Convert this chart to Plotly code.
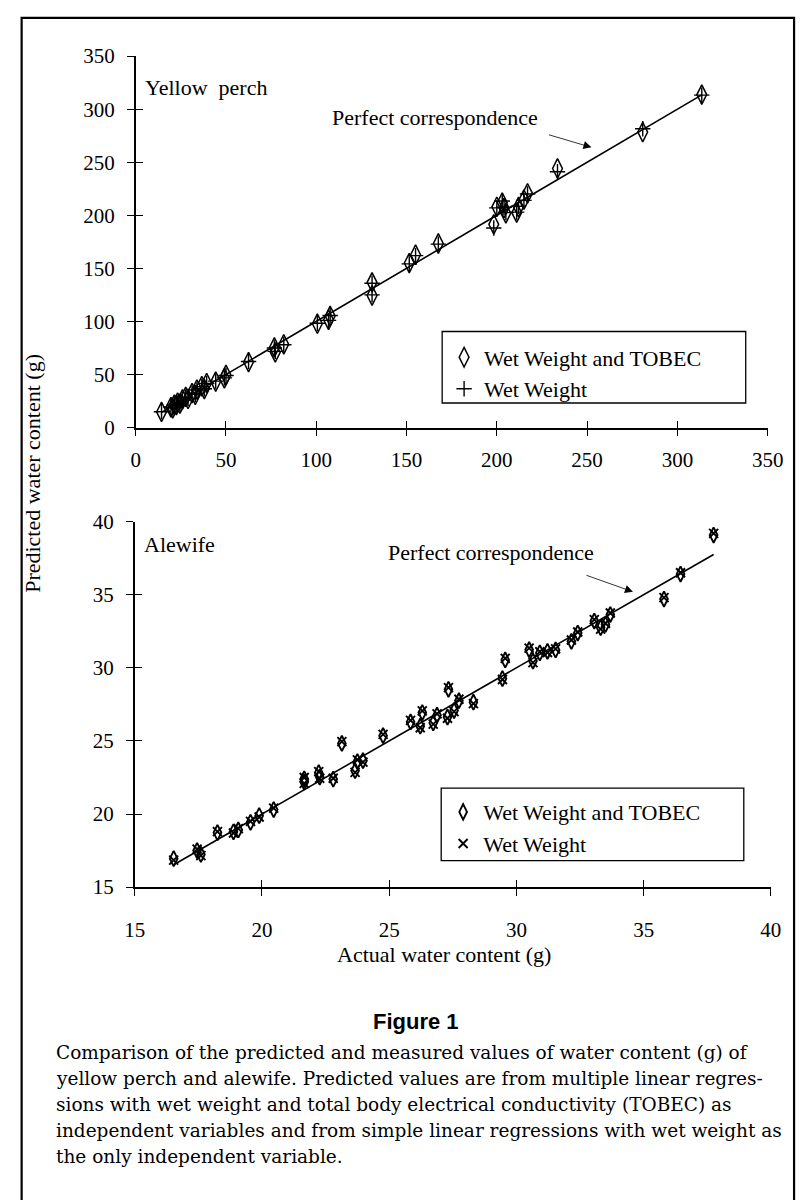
import plotly.graph_objects as go

# ---------------- data ----------------
perch_actual = [14.3, 19.5, 20.5, 21.4, 22.5, 23.2, 24.5, 25.9, 27.7, 29.0, 31.2, 33.0, 33.9, 36.6, 38.0,
                39.3, 44.3, 49.1, 50.0, 62.5, 76.8, 77.3, 82.0, 100.6, 106.8, 107.7, 130.9, 130.9,
                151.5, 155.0, 167.6, 198.3, 200.0, 203.0, 204.0, 205.0, 211.0, 212.0, 215.0, 217.0,
                233.6, 280.8, 313.5]
perch_tobec = [14.7, 19.1, 18.1, 21.6, 21.1, 23.5, 22.5, 26.5, 28.9, 26.9, 32.4, 30.8, 35.8, 38.9, 36.2,
               41.9, 43.3, 46.4, 49.5, 61.7, 75.5, 70.8, 78.4, 97.8, 101.5, 105.1, 136.8, 124.4,
               155.0, 162.8, 173.4, 191.5, 208.0, 212.0, 206.9, 201.9, 202.5, 207.8, 214.7, 220.7,
               244.1, 278.4, 313.7]
perch_ww = [14.9, 19.4, 18.6, 21.2, 21.5, 23.1, 22.9, 26.0, 28.5, 27.3, 32.0, 31.2, 35.4, 38.5, 36.6,
            41.5, 43.7, 46.8, 49.0, 62.2, 75.0, 71.8, 78.0, 98.3, 101.0, 105.6, 136.0, 125.0,
            154.2, 162.0, 172.8, 188.0, 207.0, 213.5, 207.5, 202.5, 203.0, 208.5, 214.0, 220.0,
            241.0, 281.5, 313.2]

alewife_actual = [16.53, 17.45, 17.6, 18.25, 18.88, 19.07, 19.55, 19.89, 20.46, 21.66, 21.66, 22.23,
                  22.27, 22.8, 23.14, 23.66, 23.75, 23.97, 24.76, 25.84, 26.22, 26.3, 26.73, 26.88,
                  27.29, 27.33, 27.55, 27.74, 28.31, 29.45, 29.56, 30.5, 30.65, 30.92, 31.22, 31.54,
                  32.16, 32.41, 33.06, 33.31, 33.5, 33.69, 35.8, 36.45, 37.75]
alewife_tobec = [16.95, 17.5, 17.24, 18.73, 18.78, 18.91, 19.43, 19.89, 20.3, 22.19, 22.41, 22.83,
                 22.53, 22.38, 24.83, 22.96, 23.59, 23.65, 25.36, 26.3, 26.01, 26.94, 26.23, 26.76,
                 26.63, 28.53, 27.08, 27.75, 27.65, 29.26, 30.54, 31.24, 30.46, 31.02, 31.13, 31.22,
                 31.81, 32.38, 33.2, 32.75, 32.97, 33.64, 34.7, 36.41, 39.08]
alewife_ww = [16.85, 17.6, 17.15, 18.8, 18.7, 19.0, 19.5, 19.8, 20.4, 22.1, 22.5, 22.9,
              22.45, 22.45, 24.95, 22.85, 23.7, 23.55, 25.45, 26.4, 25.9, 27.05, 26.15, 26.85,
              26.55, 28.65, 27.0, 27.85, 27.55, 29.2, 30.65, 31.35, 30.35, 31.1, 31.05, 31.3,
              31.9, 32.45, 33.3, 32.65, 33.05, 33.75, 34.8, 36.5, 39.2]

perch_ticks = [0, 50, 100, 150, 200, 250, 300, 350]
alewife_ticks = [15, 20, 25, 30, 35, 40]

W, H = 812, 1200
SERIF = "Liberation Serif"


def px(xp):
    return xp / W


def py(yp):
    return 1 - yp / H


fig = go.Figure()

# perfect correspondence lines (y = x over the data range)
plo, phi = min(perch_actual), max(perch_actual)
fig.add_trace(go.Scatter(x=[plo, phi], y=[plo, phi], mode="lines",
                         line=dict(color="black", width=1.6), showlegend=False,
                         hoverinfo="skip", xaxis="x", yaxis="y"))
alo, ahi = min(alewife_actual), max(alewife_actual)
fig.add_trace(go.Scatter(x=[alo, ahi], y=[alo, ahi], mode="lines",
                         line=dict(color="black", width=1.6), showlegend=False,
                         hoverinfo="skip", xaxis="x2", yaxis="y2"))

# Yellow perch markers
fig.add_trace(go.Scatter(x=perch_actual, y=perch_tobec, mode="markers", name="Wet Weight and TOBEC",
                         marker=dict(symbol="diamond-tall-open", size=14, color="black",
                                     line=dict(width=1.5, color="black")),
                         xaxis="x", yaxis="y", legend="legend", cliponaxis=False))
fig.add_trace(go.Scatter(x=perch_actual, y=perch_ww, mode="markers", name="Wet Weight",
                         marker=dict(symbol="cross-thin-open", size=11, color="black",
                                     line=dict(width=1.4, color="black")),
                         xaxis="x", yaxis="y", legend="legend", cliponaxis=False))

# Alewife markers
fig.add_trace(go.Scatter(x=alewife_actual, y=alewife_tobec, mode="markers", name="Wet Weight and TOBEC",
                         marker=dict(symbol="diamond-tall-open", size=11, color="black",
                                     line=dict(width=1.9, color="black")),
                         xaxis="x2", yaxis="y2", legend="legend2", cliponaxis=False))
fig.add_trace(go.Scatter(x=alewife_actual, y=alewife_ww, mode="markers", name="Wet Weight",
                         marker=dict(symbol="x-thin-open", size=9, color="black",
                                     line=dict(width=1.9, color="black")),
                         xaxis="x2", yaxis="y2", legend="legend2", cliponaxis=False))

# dummy traces so overlay tick axes render
for xa, ya in [("x3", "y"), ("x", "y3"), ("x4", "y2"), ("x2", "y4")]:
    fig.add_trace(go.Scatter(x=[None], y=[None], xaxis=xa, yaxis=ya, showlegend=False,
                             hoverinfo="skip"))

tickfont = dict(family=SERIF, size=21, color="black")
base = dict(showline=True, linecolor="black", linewidth=1.5, showgrid=False, zeroline=False,
            ticks="outside", ticklen=7, tickwidth=1.3, tickcolor="black", tickfont=tickfont)
over = dict(showline=False, showgrid=False, zeroline=False, ticks="inside", ticklen=7,
            tickwidth=1.3, tickcolor="black", showticklabels=False)

top_xdom = [px(129), px(782.7)]
top_ydom = [py(424), py(45)]
bot_xdom = [px(128), px(786)]
bot_ydom = [py(893), py(520)]

fig.update_layout(
    width=W, height=H, margin=dict(l=0, r=0, t=0, b=0),
    plot_bgcolor="white", paper_bgcolor="white",
    xaxis=dict(**base, domain=top_xdom, range=[0, 350], tickvals=perch_ticks, anchor="y",
               ticklabelstandoff=6),
    yaxis=dict(**base, domain=top_ydom, range=[0, 350], tickvals=perch_ticks, anchor="x",
               ticklabelstandoff=8),
    xaxis3=dict(**over, range=[0, 350], tickvals=perch_ticks, overlaying="x", anchor="y"),
    yaxis3=dict(**over, range=[0, 350], tickvals=perch_ticks, overlaying="y", anchor="x", side="left"),
    xaxis2=dict(**base, domain=bot_xdom, range=[15, 40], tickvals=alewife_ticks, anchor="y2",
                ticklabelstandoff=16),
    yaxis2=dict(**base, domain=bot_ydom, range=[15, 40], tickvals=alewife_ticks, anchor="x2",
                ticklabelstandoff=8),
    xaxis4=dict(**over, range=[15, 40], tickvals=alewife_ticks, overlaying="x2", anchor="y2"),
    yaxis4=dict(**over, range=[15, 40], tickvals=alewife_ticks, overlaying="y2", anchor="x2", side="left"),
    legend=dict(x=px(448), y=py(331), xanchor="left", yanchor="top", bgcolor="rgba(0,0,0,0)",
                borderwidth=0, font=dict(family=SERIF, size=22, color="black"),
                tracegroupgap=0, itemwidth=30),
    legend2=dict(x=px(447), y=py(795), xanchor="left", yanchor="top", bgcolor="rgba(0,0,0,0)",
                 borderwidth=0, font=dict(family=SERIF, size=22, color="black"),
                 tracegroupgap=0, itemwidth=30),
    showlegend=True,
)

# legend boxes and outer frame
fig.add_shape(type="rect", xref="paper", yref="paper", x0=px(446), x1=px(760), y0=py(399), y1=py(326),
              line=dict(color="black", width=1.3), fillcolor="rgba(0,0,0,0)", layer="below")
fig.add_shape(type="rect", xref="paper", yref="paper", x0=px(445), x1=px(758), y0=py(866), y1=py(792),
              line=dict(color="black", width=1.3), fillcolor="rgba(0,0,0,0)", layer="below")
fig.add_shape(type="rect", xref="paper", yref="paper", x0=px(11), x1=px(810), y0=py(1215), y1=py(6),
              line=dict(color="black", width=2.2), fillcolor="rgba(0,0,0,0)")

txt = dict(family=SERIF, size=22, color="black")
annotations = [
    dict(text="Yellow&nbsp;&nbsp;perch", x=px(137), y=py(77), xref="paper", yref="paper",
         xanchor="left", yanchor="middle", showarrow=False, font=txt),
    dict(text="Perfect correspondence", x=px(439), y=py(108), xref="paper", yref="paper",
         xanchor="center", yanchor="middle", showarrow=False, font=txt),
    dict(text="", x=252.4, y=264.0, xref="x", yref="y", ax=-44, ay=-13, showarrow=True,
         arrowhead=2, arrowsize=2, arrowwidth=0.8, arrowcolor="black"),
    dict(text="Alewife", x=px(136), y=py(543), xref="paper", yref="paper",
         xanchor="left", yanchor="middle", showarrow=False, font=txt),
    dict(text="Perfect correspondence", x=px(496), y=py(552), xref="paper", yref="paper",
         xanchor="center", yanchor="middle", showarrow=False, font=txt),
    dict(text="", x=34.58, y=35.2, xref="x2", yref="y2", ax=-48, ay=-17, showarrow=True,
         arrowhead=2, arrowsize=2, arrowwidth=0.8, arrowcolor="black"),
    dict(text="Predicted water content (g)", x=px(22), y=py(471), xref="paper", yref="paper",
         xanchor="center", yanchor="middle", textangle=-90, showarrow=False, font=txt),
    dict(text="Actual water content (g)", x=px(448), y=py(962), xref="paper", yref="paper",
         xanchor="center", yanchor="middle", showarrow=False, font=txt),
    dict(text="<b>Figure 1</b>", x=px(419), y=py(1030), xref="paper", yref="paper",
         xanchor="center", yanchor="middle", showarrow=False,
         font=dict(family="Liberation Sans", size=22, color="black")),
]

caption_lines = [
    "Comparison of the predicted and measured values of water content (g) of",
    "yellow perch and alewife. Predicted values are from multiple linear regres-",
    "sions with wet weight and total body electrical conductivity (TOBEC) as",
    "independent variables and from simple linear regressions with wet weight as",
    "the only independent variable.",
]
caption_y = [1062, 1088.5, 1115, 1141.5, 1168]
for line, yy in zip(caption_lines, caption_y):
    annotations.append(dict(text=line, x=px(44), y=py(yy), xref="paper", yref="paper",
                            xanchor="left", yanchor="middle", showarrow=False,
                            font=dict(family="DejaVu Serif", size=18.5, color="black")))

fig.update_layout(annotations=annotations)

fig.write_html("out.html", post_script="document.body.style.margin='0';")
